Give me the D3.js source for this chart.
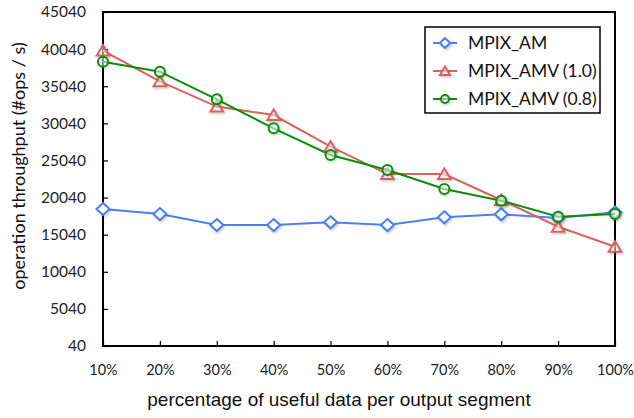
<!DOCTYPE html>
<html><head><meta charset="utf-8">
<script src="https://cdn.jsdelivr.net/npm/d3@7"></script>
<style>body{margin:0;background:#fff}svg{display:block}</style>
</head><body><svg id="c" width="634" height="418"></svg>
<script>
const categories = ["10%","20%","30%","40%","50%","60%","70%","80%","90%","100%"];
const yTicks = [40,5040,10040,15040,20040,25040,30040,35040,40040,45040];
const seriesNames = ["MPIX_AM","MPIX_AMV (1.0)","MPIX_AMV (0.8)"];
const amValues = [18500,17820,16340,16340,16700,16340,17380,17780,17300,18050];
const amv10Values = [39850,35700,32300,31160,26890,23210,23210,19710,16110,13420];
const amv08Values = [38340,37000,33280,29370,25770,23750,21190,19620,17460,17820];
const colors = ["#4a80f0","#d9625c","#0a8f0a"];
const shapes = ["diamond","triangle","circle"];

const svg = d3.select("#c");
const L=103,R=615,T=12,B=346;
const x = d3.scalePoint().domain(categories).range([L,R]);
const y = d3.scaleLinear().domain([40,45040]).range([B,T]);

const defs = svg.append("defs");
const f = defs.append("filter").attr("id","sh").attr("x","-50%").attr("y","-50%").attr("width","200%").attr("height","200%");
f.append("feDropShadow").attr("dx",1).attr("dy",1.5).attr("stdDeviation",1).attr("flood-color","#000").attr("flood-opacity",0.22);

// axes
const yAxis = d3.axisLeft(y).tickValues(yTicks).tickFormat(d3.format("d")).tickSize(-5).tickPadding(17);
const gy = svg.append("g").attr("transform",`translate(${L},0)`).call(yAxis);
gy.select(".domain").remove();
gy.selectAll("line").attr("stroke","#000").attr("stroke-width",1.2);
gy.selectAll("text").attr("font-family","Lato, sans-serif").attr("font-size",15.5).attr("fill","#222");

const xAxis = d3.axisBottom(x).tickSize(-5).tickPadding(19);
const gx = svg.append("g").attr("transform",`translate(0,${B})`).call(xAxis);
gx.select(".domain").remove();
gx.selectAll("line").attr("stroke","#000").attr("stroke-width",1.2);
gx.selectAll("text").attr("font-family","Lato, sans-serif").attr("font-size",14.5).attr("fill","#222");

// frame
svg.append("rect").attr("x",L).attr("y",T).attr("width",R-L).attr("height",B-T)
  .attr("fill","none").attr("stroke","#000").attr("stroke-width",2);

// titles
svg.append("text").attr("x",339).attr("y",406).attr("text-anchor","middle")
  .attr("font-family","'Liberation Sans', Arial, sans-serif").attr("font-size",19).attr("fill","#111")
  .text("percentage of useful data per output segment");
svg.append("text").attr("transform","translate(25,166) rotate(-90)").attr("text-anchor","middle")
  .attr("font-family","Lato, sans-serif").attr("font-size",18).attr("fill","#111")
  .text("operation throughput (#ops / s)");

const data = [amValues, amv10Values, amv08Values];
const line = d3.line().x((d,i)=>x(categories[i])).y(d=>y(d));

function drawMarker(g, shape, color, px, py, s){
  let d;
  if(shape==="diamond"){
    const w=6.5*s, h=6*s;
    d=`M${px},${py-h}L${px+w},${py}L${px},${py+h}L${px-w},${py}Z`;
  } else if(shape==="triangle"){
    const w=6.3*s, h=5*s;
    d=`M${px},${py-h-0.5}L${px+w},${py+h}L${px-w},${py+h}Z`;
  } else {
    const r=5*s;
    d=`M${px-r},${py}A${r},${r} 0 1,0 ${px+r},${py}A${r},${r} 0 1,0 ${px-r},${py}Z`;
  }
  g.append("path").attr("d",d).attr("fill","#fff").attr("fill-opacity",shape==="diamond"?1:0.5)
   .attr("stroke",color).attr("stroke-width",2).attr("filter","url(#sh)");
}

data.forEach((vals,si)=>{
  const g = svg.append("g");
  g.append("path").datum(vals).attr("d",line).attr("fill","none").attr("stroke",colors[si]).attr("stroke-width",2);
  vals.forEach((v,i)=>drawMarker(g, shapes[si], colors[si], x(categories[i]), y(v), 1));
});

// legend
const lg = svg.append("g");
lg.append("rect").attr("x",425).attr("y",27).attr("width",175).attr("height",86)
  .attr("fill","#fff").attr("stroke","#000").attr("stroke-width",1.5);
seriesNames.forEach((n,i)=>{
  const cy = 43 + i*28;
  lg.append("line").attr("x1",433).attr("x2",457).attr("y1",cy).attr("y2",cy).attr("stroke",colors[i]).attr("stroke-width",2);
  drawMarker(lg, shapes[i], colors[i], 445, cy, 0.8);
  lg.append("text").attr("x",468).attr("y",cy+6).attr("font-family","Lato, sans-serif").attr("font-size",17.5).attr("fill","#111").text(n);
});
</script></body></html>
